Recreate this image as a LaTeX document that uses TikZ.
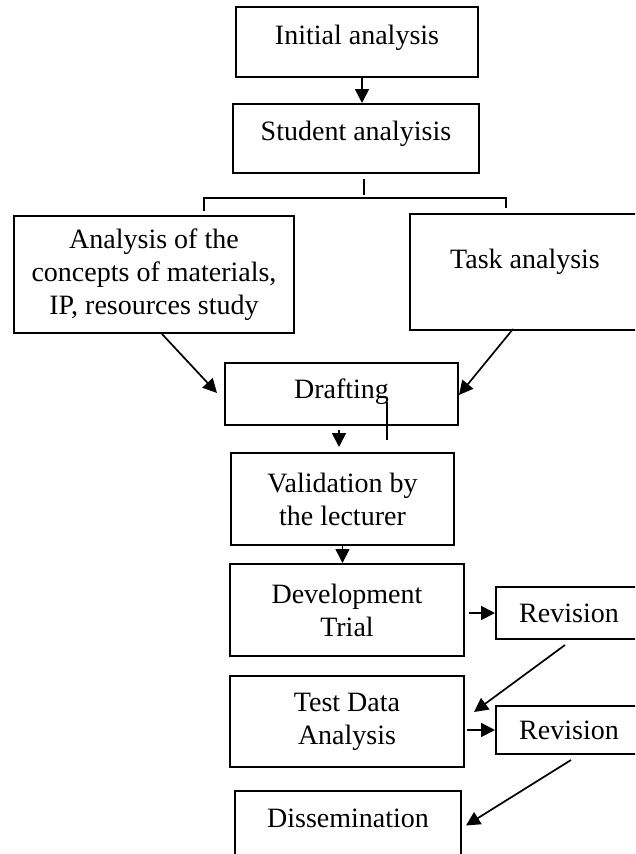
\documentclass[tikz,border=0pt]{standalone}
\usepackage{fontspec}
\setmainfont{Liberation Serif}
\usetikzlibrary{arrows.meta,calc}

\begin{document}
\begin{tikzpicture}[x=1pt, y=-1pt,
		box/.style={draw, line width=2pt, align=center, inner sep=0pt, font=\fontsize{28}{33}\selectfont},
		arr/.style={line width=1.7pt, -{Triangle[length=14pt, width=14pt]}},
		con/.style={line width=1.7pt}]
		\clip (0,0) rectangle (635,854);
		\node[box, minimum width=242, minimum height=70, text depth=14pt] (init) at (357,42) {Initial analysis};
		\node[box, minimum width=246, minimum height=69, text depth=15pt] (stud) at (356,138.5) {Student analyisis};
		\node[box, minimum width=280, minimum height=117] (conc) at (154,274.5) {Analysis of the\\concepts of materials,\\IP, resources study};
		\node[box, minimum width=230, minimum height=116, text depth=26pt] (task) at (525,272) {Task analysis};
		\node[box, minimum width=233, minimum height=62, text depth=10pt] (draft) at (341.5,394) {Drafting};
		\node[box, minimum width=223, minimum height=92] (valid) at (342.5,499) {Validation by\\the lecturer};
		\node[box, minimum width=234, minimum height=92] (devel) at (347,610) {Development\\Trial};
		\node[box, minimum width=234, minimum height=91] (test) at (347,721.5) {Test Data\\Analysis};
		\node[box, minimum width=226, minimum height=69, text depth=15pt] (dissem) at (348,825.5) {Dissemination};
		\node[box, minimum width=146, minimum height=52] (rev1) at (569,613) {Revision};
		\node[box, minimum width=146, minimum height=48] (rev2) at (569,730) {Revision};
		\draw[arr] ($(init.south)+(5,0)$) -- ($(stud.north)+(6,0)$);
		\draw[con] ($(stud.south)+(8,5)$) -- ($(stud.south)+(8,21)$);
		\draw[con] ($(conc.north)+(50,-4)$) |- ($(task.north)+(-19,-15)$) -- ($(task.north)+(-19,-5)$);
		\draw[arr] ($(conc.south)+(8,0)$) -- ($(draft.west)+(-7,-1)$);
		\draw[arr] ($(task.south)+(-12,-2)$) -- ($(draft.east)+(0,1)$);
		\draw[arr] ($(draft.south)+(-2.5,4)$) -- ($(valid.north)+(-3.5,-5)$);
		\draw[con] ($(draft.center)+(45.5,8)$) -- ($(draft.center)+(45.5,46)$);
		\draw[arr] (valid.south) -- (valid.south |- devel.north);
		\draw[arr] ($(rev1.west -| devel.east)+(4,0)$) -- (rev1.west);
		\draw[arr] ($(rev1.south)+(-4,5)$) -- ($(test.east)+(9,-9.5)$);
		\draw[arr] ($(rev2.west -| test.east)+(2,0)$) -- (rev2.west);
		\draw[arr] ($(rev2.south)+(2,5)$) -- ($(dissem.east)+(4,0)$);
	\end{tikzpicture}
\end{document}
